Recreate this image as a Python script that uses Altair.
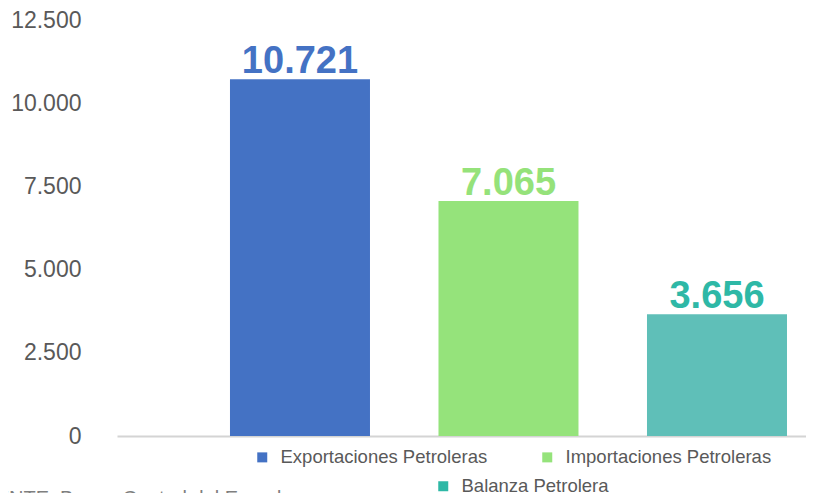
import altair as alt
import pandas as pd

series = ["Exportaciones Petroleras", "Importaciones Petroleras", "Balanza Petrolera"]
values = [10721, 7065, 3656]
y_ticks = [0, 2500, 5000, 7500, 10000, 12500]

bar_colors = ["#4472C4", "#95E37B", "#5FBFB8"]
label_colors = ["#4472C4", "#95E27A", "#2EB8A6"]

df = pd.DataFrame({"serie": series, "valor": values})

FONT = "Liberation Sans"

legend_style = dict(
    title=None, orient="none", direction="horizontal",
    labelFontSize=18.5, labelColor="#595959", labelFont=FONT,
    symbolType="square", symbolSize=100, symbolStrokeWidth=0,
    labelOffset=9, padding=0, labelLimit=400,
)

x = alt.X(
    "serie:N",
    sort=series,
    scale=alt.Scale(paddingInner=0.3285, paddingOuter=0.3165, align=0.856),
    axis=alt.Axis(title=None, labels=False, ticks=False, domain=True,
                  domainColor="#D4D4D4", domainWidth=2),
)
y = alt.Y(
    "valor:Q",
    scale=alt.Scale(domain=[0, 12500], nice=False),
    axis=alt.Axis(title=None, values=y_ticks, grid=False, ticks=False, domain=False,
                  labelFontSize=23, labelColor="#595959", labelFont=FONT,
                  labelPadding=36,
                  labelExpr="replace(format(datum.value, ',.0f'), ',', '.')"),
)

bars = alt.Chart(df).mark_bar(size=140).encode(
    x=x,
    y=y,
    color=alt.Color(
        "serie:N",
        sort=series,
        scale=alt.Scale(domain=series, range=bar_colors),
        legend=alt.Legend(values=series[:2], legendX=136, legendY=428,
                          columns=2, columnPadding=50, **legend_style),
    ),
)

labels = alt.Chart(df).transform_calculate(
    txt="replace(format(datum.valor, ',.0f'), ',', '.')"
).mark_text(
    baseline="alphabetic", dy=-6, fontSize=38, fontWeight="bold", font=FONT
).encode(
    x=alt.X("serie:N", sort=series),
    y=alt.Y("valor:Q"),
    text="txt:N",
    color=alt.Color("serie:N", sort=series,
                    scale=alt.Scale(domain=series, range=label_colors),
                    legend=alt.Legend(values=series[2:], legendX=317, legendY=457,
                                      **legend_style)),
)

chart = alt.layer(bars, labels).resolve_scale(color="independent").properties(
    width=689,
    height=416,
    padding={"left": 109, "top": 12, "right": 0, "bottom": 80},
    autosize=alt.AutoSizeParams(type="none"),
    title=alt.TitleParams(
        "FUENTE: Banco Central del Ecuador", orient="bottom", anchor="start",
        frame="group", dx=-148, offset=-7, baseline="top", fontSize=20,
        fontWeight="normal", color="#7F7F7F", font=FONT,
    ),
).configure_view(stroke=None)

chart.save("out.html", embed_options={"renderer": "svg", "actions": False})
